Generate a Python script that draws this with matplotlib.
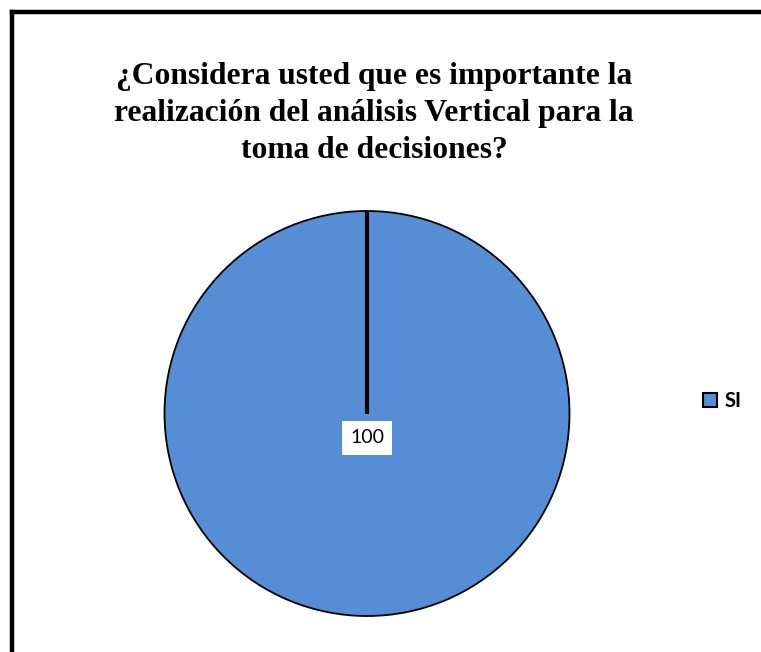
import matplotlib.pyplot as plt
from matplotlib.lines import Line2D
from matplotlib.patches import Patch

# Respuestas a la encuesta
categorias = ["SI"]
valores = [100]
colores = ["#558ed5"]

titulo = ("¿Considera usted que es importante la\n"
          "realización del análisis Vertical para la\n"
          "toma de decisiones?")

fig = plt.figure(figsize=(7.61, 6.52), dpi=100)

# Marco del gráfico (solo borde superior e izquierdo visibles)
fig.add_artist(Line2D([12 / 761, 12 / 761], [0, 1 - 12 / 652], color="black",
                      linewidth=3.2, solid_capstyle="projecting"))
fig.add_artist(Line2D([12 / 761, 1], [1 - 12 / 652, 1 - 12 / 652], color="black",
                      linewidth=3.2, solid_capstyle="projecting"))

fig.text(374 / 761, 1 - 113.5 / 652, titulo, ha="center", va="center",
         family="Liberation Serif", fontweight="bold", fontsize=22.7,
         linespacing=1.38)

ax = fig.add_axes([164 / 761, 36 / 652, 406 / 761, 405 / 652])
wedges, textos, autotextos = ax.pie(
    valores, colors=colores, startangle=90, counterclock=False, radius=1,
    autopct=lambda p: f"{valores[0]}", pctdistance=0.12,
    wedgeprops=dict(edgecolor="black", linewidth=1.3),
    textprops=dict(family="Lato", fontsize=14, color="black"))
for t in autotextos:
    t.set_bbox(dict(facecolor="white", edgecolor="none", pad=6))

# borde del sector, desde el centro hacia arriba
ax.plot([0, 0], [0, 1], color="black", linewidth=3, solid_capstyle="butt")
ax.set_xlim(-1.0, 1.0)
ax.set_ylim(-1.0, 1.0)

fig.legend(handles=[Patch(facecolor=colores[0], edgecolor="black",
                          linewidth=1.5, label=categorias[0])],
           loc="center left", bbox_to_anchor=(685 / 761, 1 - 401 / 652),
           frameon=False, handlelength=0.68, handleheight=0.68,
           handletextpad=0.4,
           prop=dict(family="Lato", weight="bold", size=14.5))

fig.savefig("out.png", dpi=100)
